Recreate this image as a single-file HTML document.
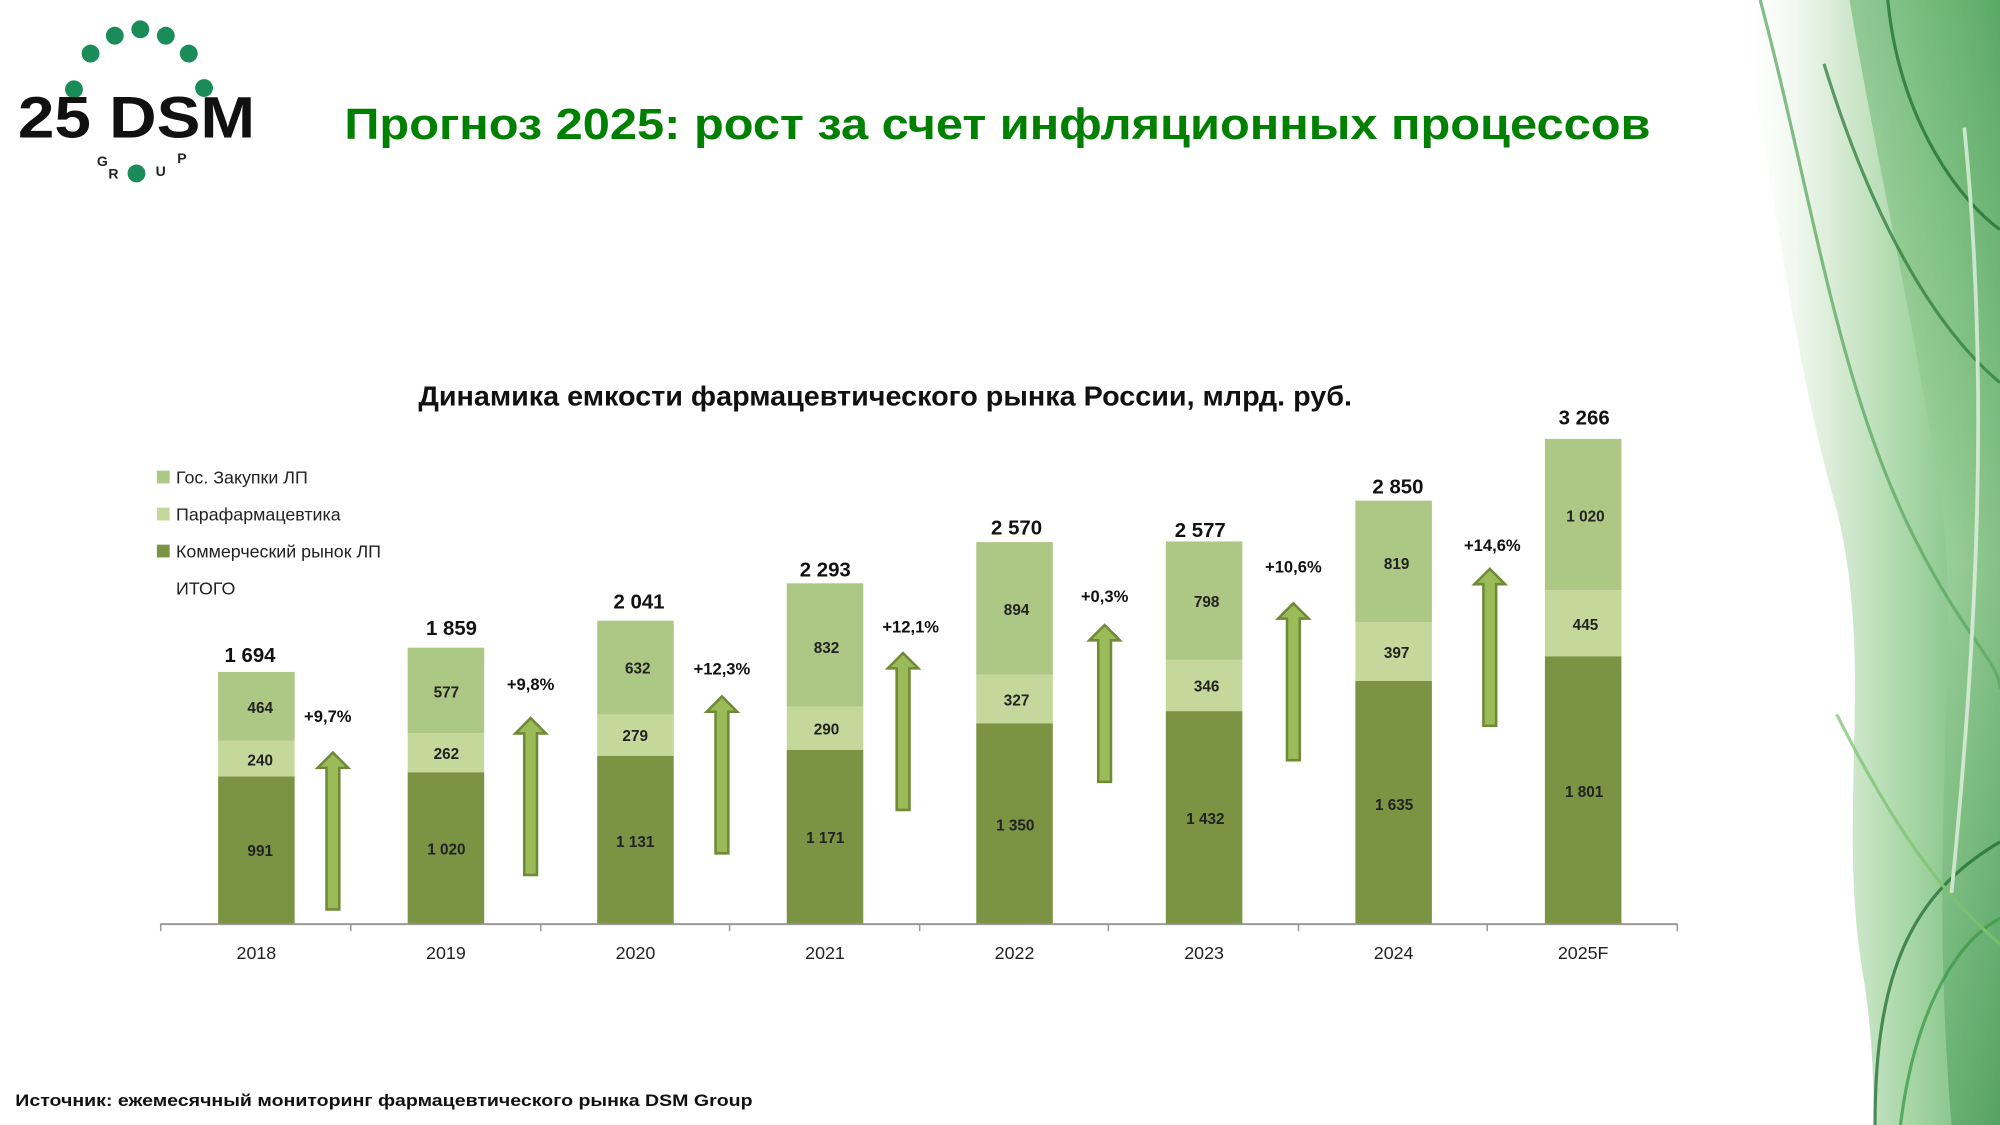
<!DOCTYPE html>
<html><head><meta charset="utf-8"><style>
html,body{margin:0;padding:0;background:#fff;}
svg{display:block}
text{font-family:"Liberation Sans","DejaVu Sans",sans-serif;}
</style></head><body>
<svg width="2000" height="1125" viewBox="0 0 1568 882" xmlns="http://www.w3.org/2000/svg">
<defs>
<linearGradient id="sw" x1="0" y1="0" x2="1" y2="0">
<stop offset="0" stop-color="#ffffff" stop-opacity="0"/>
<stop offset="0.35" stop-color="#c6e2c0" stop-opacity="0.6"/>
<stop offset="0.7" stop-color="#6cbb6a" stop-opacity="0.65"/>
<stop offset="1" stop-color="#3d9a4c" stop-opacity="0.75"/>
</linearGradient>
<linearGradient id="sw2" x1="0" y1="0" x2="0" y2="1">
<stop offset="0" stop-color="#3a9a48"/>
<stop offset="0.5" stop-color="#a8d6a0"/>
<stop offset="1" stop-color="#2f8a42"/>
</linearGradient>
</defs>
<rect width="1568" height="882" fill="#fff"/>
<path d="M1360 0 C1390 120 1400 260 1440 400 C1470 520 1440 640 1460 760 C1470 820 1468 860 1470 882 L1568 882 L1568 0 Z" fill="url(#sw)"/>
<path d="M1450 0 C1470 120 1500 250 1520 380 C1540 500 1510 640 1530 882 L1568 882 L1568 0 Z" fill="url(#sw2)" opacity="0.4"/>
<g fill="none" stroke-width="2.5" opacity="0.75">
<path d="M1380 0 C1420 150 1440 300 1500 420 C1540 500 1568 520 1568 540" stroke="#5aa860"/>
<path d="M1430 50 C1470 180 1520 260 1568 300" stroke="#2f7d3c"/>
<path d="M1480 0 C1490 100 1540 160 1568 180" stroke="#1f6e30"/>
<path d="M1470 882 C1470 760 1500 700 1568 660" stroke="#1f6e30"/>
<path d="M1490 882 C1500 800 1530 740 1568 720" stroke="#3a9a48"/>
<path d="M1440 560 C1480 640 1520 700 1568 740" stroke="#7cc46f"/>
<path d="M1540 100 C1560 300 1550 500 1530 700" stroke="#e8f5e4" stroke-width="3"/>
</g>
<g fill="#1a8c5a">
<circle cx="58" cy="70" r="7"/><circle cx="71" cy="42" r="7"/><circle cx="90" cy="28" r="7"/>
<circle cx="110" cy="23" r="7"/><circle cx="130" cy="28" r="7"/><circle cx="148" cy="42" r="7"/>
<circle cx="160" cy="69" r="7"/><circle cx="107" cy="136" r="7"/>
</g>
<text x="14" y="108" font-size="46" font-weight="bold" fill="#111" textLength="186" lengthAdjust="spacingAndGlyphs">25 DSM</text>
<text x="76" y="130" font-size="11" font-weight="bold" fill="#222">G</text>
<text x="85" y="140" font-size="11" font-weight="bold" fill="#222">R</text>
<text x="122" y="138" font-size="11" font-weight="bold" fill="#222">U</text>
<text x="139" y="128" font-size="11" font-weight="bold" fill="#222">P</text>
<text x="270" y="109" font-size="34" font-weight="bold" fill="#008000" font-family="DejaVu Sans, sans-serif" textLength="1024" lengthAdjust="spacingAndGlyphs">Прогноз 2025: рост за счет инфляционных процессов</text>
<text x="328" y="318" font-size="22" font-weight="bold" fill="#111" textLength="732" lengthAdjust="spacingAndGlyphs">Динамика емкости фармацевтического рынка России, млрд. руб.</text>
<rect x="123" y="369" width="10" height="10" fill="#adc785"/>
<rect x="123" y="398" width="10" height="10" fill="#c4d89b"/>
<rect x="123" y="427" width="10" height="10" fill="#7a9444"/>
<g font-size="14" fill="#222">
<text x="138" y="379">Гос. Закупки ЛП</text>
<text x="138" y="408">Парафармацевтика</text>
<text x="138" y="437">Коммерческий рынок ЛП</text>
<text x="138" y="466">ИТОГО</text>
</g>
<line x1="126" y1="724.5" x2="1315" y2="724.5" stroke="#999" stroke-width="1.5"/>
<g stroke="#999" stroke-width="1.2">
<line x1="126" y1="724" x2="126" y2="730"/><line x1="275" y1="724" x2="275" y2="730"/><line x1="424" y1="724" x2="424" y2="730"/><line x1="572" y1="724" x2="572" y2="730"/><line x1="721" y1="724" x2="721" y2="730"/><line x1="869" y1="724" x2="869" y2="730"/><line x1="1018" y1="724" x2="1018" y2="730"/><line x1="1166" y1="724" x2="1166" y2="730"/><line x1="1315" y1="724" x2="1315" y2="730"/>
</g>
<g>
<rect x="171" y="608.7" width="60" height="115.3" fill="#7a9444"/><rect x="171" y="580.8" width="60" height="27.9" fill="#c4d89b"/><rect x="171" y="526.8" width="60" height="54" fill="#adc785"/>
<rect x="319.6" y="605.4" width="60" height="118.6" fill="#7a9444"/><rect x="319.6" y="574.9" width="60" height="30.5" fill="#c4d89b"/><rect x="319.6" y="507.8" width="60" height="67.1" fill="#adc785"/>
<rect x="468.2" y="592.5" width="60" height="131.5" fill="#7a9444"/><rect x="468.2" y="560.1" width="60" height="32.4" fill="#c4d89b"/><rect x="468.2" y="486.6" width="60" height="73.5" fill="#adc785"/>
<rect x="616.8" y="587.8" width="60" height="136.2" fill="#7a9444"/><rect x="616.8" y="554.1" width="60" height="33.7" fill="#c4d89b"/><rect x="616.8" y="457.3" width="60" height="96.8" fill="#adc785"/>
<rect x="765.4" y="567" width="60" height="157" fill="#7a9444"/><rect x="765.4" y="529" width="60" height="38" fill="#c4d89b"/><rect x="765.4" y="425" width="60" height="104" fill="#adc785"/>
<rect x="914" y="557.5" width="60" height="166.5" fill="#7a9444"/><rect x="914" y="517.3" width="60" height="40.2" fill="#c4d89b"/><rect x="914" y="424.5" width="60" height="92.8" fill="#adc785"/>
<rect x="1062.6" y="533.9" width="60" height="190.1" fill="#7a9444"/><rect x="1062.6" y="487.7" width="60" height="46.2" fill="#c4d89b"/><rect x="1062.6" y="392.5" width="60" height="95.2" fill="#adc785"/>
<rect x="1211.2" y="514.5" width="60" height="209.5" fill="#7a9444"/><rect x="1211.2" y="462.7" width="60" height="51.8" fill="#c4d89b"/><rect x="1211.2" y="344.1" width="60" height="118.6" fill="#adc785"/>
</g>
<g font-size="12" font-weight="bold" fill="#222" text-anchor="middle">
<text x="204" y="671">991</text><text x="204" y="600">240</text><text x="204" y="559">464</text>
<text x="350" y="670">1 020</text><text x="350" y="595">262</text><text x="350" y="547">577</text>
<text x="498" y="664">1 131</text><text x="498" y="581">279</text><text x="500" y="528">632</text>
<text x="647" y="661">1 171</text><text x="648" y="576">290</text><text x="648" y="512">832</text>
<text x="796" y="651">1 350</text><text x="797" y="553">327</text><text x="797" y="482">894</text>
<text x="945" y="646">1 432</text><text x="946" y="542">346</text><text x="946" y="476">798</text>
<text x="1093" y="635">1 635</text><text x="1095" y="516">397</text><text x="1095" y="446">819</text>
<text x="1242" y="625">1 801</text><text x="1243" y="494">445</text><text x="1243" y="409">1 020</text>
</g>
<g font-size="16" font-weight="bold" fill="#111" text-anchor="middle">
<text x="196" y="519">1 694</text><text x="354" y="498">1 859</text><text x="501" y="477">2 041</text><text x="647" y="452">2 293</text>
<text x="797" y="419">2 570</text><text x="941" y="421">2 577</text><text x="1096" y="387">2 850</text><text x="1242" y="333">3 266</text>
</g>
<g font-size="14" fill="#222" text-anchor="middle">
<text x="201" y="752">2018</text><text x="349.6" y="752">2019</text><text x="498.2" y="752">2020</text><text x="646.8" y="752">2021</text>
<text x="795.4" y="752">2022</text><text x="944" y="752">2023</text><text x="1092.6" y="752">2024</text><text x="1241.2" y="752">2025F</text>
</g>
<g fill="#9bbb59" stroke="#6f8a36" stroke-width="2" stroke-linejoin="miter">
<path d="M256 713 L256 602 L249 602 L261 590 L273 602 L266 602 L266 713 Z"/>
<path d="M411 686 L411 575 L404 575 L416 563 L428 575 L421 575 L421 686 Z"/>
<path d="M561 669 L561 558 L554 558 L566 546 L578 558 L571 558 L571 669 Z"/>
<path d="M703 635 L703 524 L696 524 L708 512 L720 524 L713 524 L713 635 Z"/>
<path d="M861 613 L861 502 L854 502 L866 490 L878 502 L871 502 L871 613 Z"/>
<path d="M1009 596 L1009 485 L1002 485 L1014 473 L1026 485 L1019 485 L1019 596 Z"/>
<path d="M1163 569 L1163 458 L1156 458 L1168 446 L1180 458 L1173 458 L1173 569 Z"/>
</g>
<g font-size="13" font-weight="bold" fill="#111" text-anchor="middle">
<text x="257" y="566">+9,7%</text><text x="416" y="541">+9,8%</text><text x="566" y="529">+12,3%</text><text x="714" y="496">+12,1%</text>
<text x="866" y="472">+0,3%</text><text x="1014" y="449">+10,6%</text><text x="1170" y="432">+14,6%</text>
</g>
<text x="12" y="867" font-size="13" font-weight="bold" fill="#111" font-family="DejaVu Sans, sans-serif" textLength="578" lengthAdjust="spacingAndGlyphs">Источник: ежемесячный мониторинг фармацевтического рынка DSM Group</text>
</svg>
</body></html>
